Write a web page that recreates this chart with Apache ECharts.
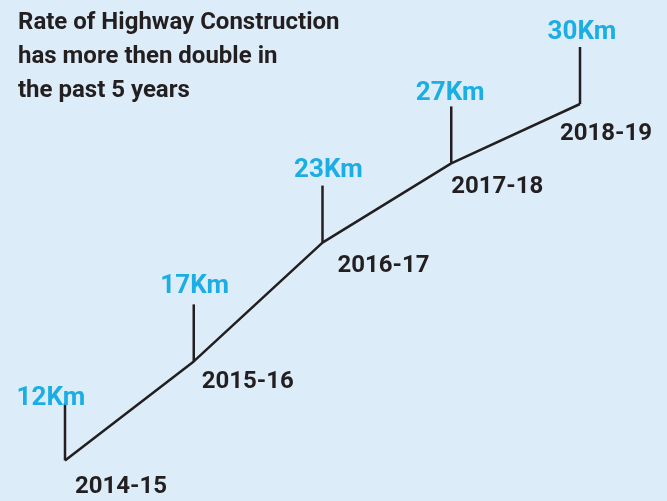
<!DOCTYPE html>
<html><head><meta charset="utf-8">
<script src="https://cdn.jsdelivr.net/npm/echarts@6/dist/echarts.min.js"></script>
<style>html,body{margin:0;padding:0;background:#ddecf9;}#c{width:667px;height:501px;}</style>
</head><body><div id="c"></div>
<script>
var categories = ['2014-15', '2015-16', '2016-17', '2017-18', '2018-19'];
var values = [12, 17, 23, 27, 30];
var unit = 'Km';
var titleText = 'Rate of Highway Construction\nhas more then double in\nthe past 5 years';

// layout offsets (pixels, relative to each point / stem top)
var valueDx = [-14, 1, 6, -1, 2];
var valueGap = [0, 13, 10, 8, 10];
var catDx = [10, 8, 15, 0, -20];
var catDy = [27, 21, 23, 24, 30];
var stemLen = 57;

var dark = '#231f20', cyan = '#1aaee5';
var pairs = values.map(function (v, i) { return [i, v]; });
var chart = echarts.init(document.getElementById('c'));
chart.setOption({
  backgroundColor: '#ddecf9',
  animation: false,
  title: {
    text: titleText, left: 13, top: 1,
    textStyle: { fontFamily: 'Roboto', fontWeight: 'bold', fontSize: 24, color: dark, lineHeight: 34 }
  },
  grid: { left: 65, right: 87, top: 104, bottom: 1 },
  xAxis: { type: 'category', data: categories, boundaryGap: false, show: false },
  yAxis: { type: 'value', min: 10, max: 30, show: false },
  series: [{
    type: 'line', data: values, symbol: 'none',
    lineStyle: { color: dark, width: 2.5 }
  }, {
    type: 'custom', data: pairs, clip: false,
    encode: { x: 0, y: 1 },
    renderItem: function (params, api) {
      var i = params.dataIndex;
      var p = api.coord([api.value(0), api.value(1)]);
      var top = p[1] - stemLen;
      return { type: 'group', children: [
        { type: 'line', shape: { x1: p[0], y1: p[1], x2: p[0], y2: top },
          style: { stroke: dark, lineWidth: 2.5 } },
        { type: 'text', x: p[0] + valueDx[i], y: top + 8 - valueGap[i],
          style: { text: values[i] + unit, fill: cyan, font: 'bold 26px Roboto', textAlign: 'center', textVerticalAlign: 'bottom' } },
        { type: 'text', x: p[0] + catDx[i], y: p[1] + catDy[i],
          style: { text: categories[i], fill: dark, font: 'bold 24px Roboto', textAlign: 'left', textVerticalAlign: 'middle' } }
      ]};
    }
  }]
});
</script></body></html>
